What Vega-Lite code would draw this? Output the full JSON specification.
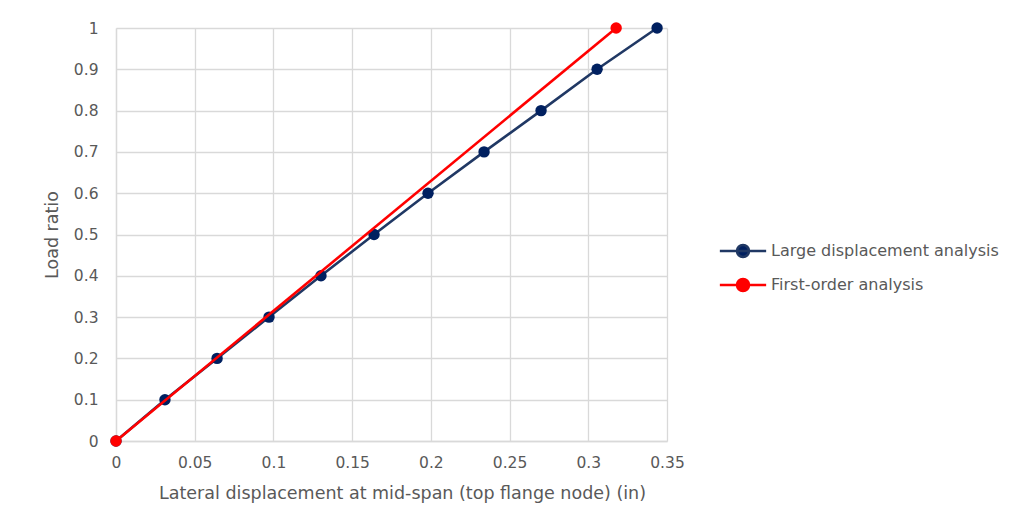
{
  "$schema": "https://vega.github.io/schema/vega-lite/v6.json",
  "width": 551,
  "height": 413,
  "autosize": {"type": "none"},
  "padding": {"left": 116, "top": 28, "right": 346, "bottom": 81},
  "background": "white",
  "config": {
    "view": {"stroke": null},
    "font": "DejaVu Sans",
    "axis": {
      "domainColor": "#d9d9d9",
      "gridColor": "#d9d9d9",
      "gridWidth": 1.3,
      "domainWidth": 1.3,
      "ticks": false,
      "labelColor": "#595959",
      "titleColor": "#595959",
      "labelFont": "DejaVu Sans",
      "titleFont": "DejaVu Sans",
      "labelFontSize": 15.5,
      "titleFontSize": 17.5,
      "titleFontWeight": "normal",
      "labelFlush": false
    },
    "legend": {
      "labelFont": "DejaVu Sans",
      "labelFontSize": 16,
      "labelColor": "#595959",
      "labelLimit": 0
    }
  },
  "datasets": {
    "pts": [
      {"series": "Large displacement analysis", "x": 0, "y": 0},
      {"series": "Large displacement analysis", "x": 0.0311, "y": 0.1},
      {"series": "Large displacement analysis", "x": 0.0642, "y": 0.2},
      {"series": "Large displacement analysis", "x": 0.0972, "y": 0.3},
      {"series": "Large displacement analysis", "x": 0.1302, "y": 0.4},
      {"series": "Large displacement analysis", "x": 0.1639, "y": 0.5},
      {"series": "Large displacement analysis", "x": 0.1982, "y": 0.6},
      {"series": "Large displacement analysis", "x": 0.2338, "y": 0.7},
      {"series": "Large displacement analysis", "x": 0.27, "y": 0.8},
      {"series": "Large displacement analysis", "x": 0.3056, "y": 0.9},
      {"series": "Large displacement analysis", "x": 0.3437, "y": 1.0},
      {"series": "First-order analysis", "x": 0, "y": 0},
      {"series": "First-order analysis", "x": 0.3177, "y": 1.0}
    ]
  },
  "data": {"name": "pts"},
  "encoding": {
    "x": {
      "field": "x",
      "type": "quantitative",
      "scale": {"domain": [0, 0.35], "nice": false},
      "axis": {
        "values": [0, 0.05, 0.1, 0.15, 0.2, 0.25, 0.3, 0.35],
        "format": "~g",
        "labelPadding": 14,
        "title": "Lateral displacement at mid-span (top flange node) (in)",
        "titleY": 52,
        "titleX": 286,
        "titleBaseline": "middle"
      }
    },
    "y": {
      "field": "y",
      "type": "quantitative",
      "scale": {"domain": [0, 1], "nice": false},
      "axis": {
        "values": [0, 0.1, 0.2, 0.3, 0.4, 0.5, 0.6, 0.7, 0.8, 0.9, 1],
        "format": "~g",
        "labelPadding": 18,
        "title": "Load ratio",
        "titleX": -64,
        "titleBaseline": "middle"
      }
    }
  },
  "layer": [
    {
      "transform": [{"filter": "datum.series === 'Large displacement analysis'"}],
      "mark": {"type": "line", "strokeWidth": 2.6},
      "encoding": {
        "stroke": {
          "field": "series",
          "type": "nominal",
          "scale": {
            "domain": ["Large displacement analysis", "First-order analysis"],
            "range": ["#203864", "#ff0000"]
          },
          "legend": {
            "title": null,
            "orient": "none",
            "legendX": 612,
            "legendY": 208,
            "symbolType": "M-1.75,0H1.75M-0.45,0A0.45,0.45,0,1,1,0.45,0A0.45,0.45,0,1,1,-0.45,0Z",
            "symbolSize": 700,
            "symbolStrokeWidth": 2.6,
            "labelOffset": 13,
            "rowPadding": 7
          }
        }
      }
    },
    {
      "transform": [{"filter": "datum.series === 'Large displacement analysis'"}],
      "mark": {"type": "point", "filled": true, "size": 130, "opacity": 1, "strokeWidth": 0},
      "encoding": {
        "fill": {
          "field": "series",
          "type": "nominal",
          "scale": {
            "domain": ["Large displacement analysis", "First-order analysis"],
            "range": ["#002060", "#ff0000"]
          },
          "legend": {
            "title": null,
            "orient": "none",
            "legendX": 612,
            "legendY": 208,
            "symbolType": "M-1.75,0H1.75M-0.45,0A0.45,0.45,0,1,1,0.45,0A0.45,0.45,0,1,1,-0.45,0Z",
            "symbolSize": 700,
            "symbolStrokeWidth": 2.6,
            "labelOffset": 13,
            "rowPadding": 7
          }
        }
      }
    },
    {
      "transform": [{"filter": "datum.series === 'First-order analysis'"}],
      "mark": {"type": "line", "strokeWidth": 2.6},
      "encoding": {
        "stroke": {"field": "series", "type": "nominal"}
      }
    },
    {
      "transform": [{"filter": "datum.series === 'First-order analysis'"}],
      "mark": {"type": "point", "filled": true, "size": 130, "opacity": 1, "strokeWidth": 0},
      "encoding": {
        "fill": {"field": "series", "type": "nominal"}
      }
    }
  ]
}
